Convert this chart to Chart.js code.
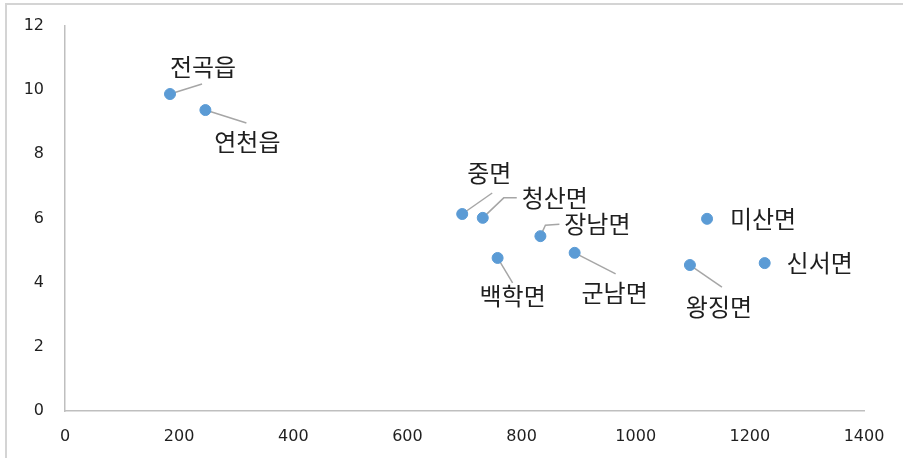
<!DOCTYPE html>
<html>
<head>
<meta charset="utf-8">
<script src="https://cdn.jsdelivr.net/npm/chart.js@4"></script>
<style>
  html, body { margin: 0; padding: 0; background: #fff; }
  #frame { position: absolute; left: 5px; top: 3px; width: 1200px; height: 800px; border: 2px solid #d4d4d4; }
  #wrap { position: absolute; left: 0; top: 0; width: 903px; height: 458px; }
</style>
</head>
<body>
<div id="frame"></div>
<div id="wrap"><canvas id="chart" width="903" height="458"></canvas></div>
<script>
// data
const regions = ['전곡읍', '연천읍', '중면', '청산면', '백학면', '장남면', '군남면', '미산면', '왕징면', '신서면'];
const xValues = [184, 246, 696, 732, 758, 833, 893, 1125, 1095, 1226];
const yValues = [9.88, 9.38, 6.14, 6.02, 4.77, 5.45, 4.93, 5.99, 4.55, 4.61];
const xTicks  = [0, 200, 400, 600, 800, 1000, 1200, 1400];
const yTicks  = [0, 2, 4, 6, 8, 10, 12];

// label placement (pixel offsets from each point) and leader lines
const labelLayout = [
  { label: [33, -27], line: [[32, -10]] },
  { label: [42, 32],  line: [[41, 13]] },
  { label: [27, -41], line: [[30, -21]] },
  { label: [72, -20], line: [[21, -20], [34, -20]] },
  { label: [15, 38],  line: [[15, 25]] },
  { label: [57, -12], line: [[5, -11], [19, -12]] },
  { label: [40, 40],  line: [[41, 21]] },
  { label: [56, 0],   line: null },
  { label: [29, 42],  line: [[32, 22]] },
  { label: [55, 0],   line: null }
];

const points = xValues.map((x, i) => ({ x: x, y: yValues[i] }));

const leaderLines = {
  id: 'leaderLines',
  beforeDatasetsDraw(chart) {
    const ctx = chart.ctx;
    const meta = chart.getDatasetMeta(0);
    ctx.save();
    ctx.strokeStyle = '#a6a6a6';
    ctx.lineWidth = 1.5;
    meta.data.forEach((pt, i) => {
      const lay = labelLayout[i];
      if (!lay.line) return;
      ctx.beginPath();
      ctx.moveTo(pt.x, pt.y);
      lay.line.forEach(p => ctx.lineTo(pt.x + p[0], pt.y + p[1]));
      ctx.stroke();
    });
    ctx.restore();
  },
  afterDatasetsDraw(chart) {
    const ctx = chart.ctx;
    const meta = chart.getDatasetMeta(0);
    ctx.save();
    ctx.font = '24px "Noto Sans CJK KR"';
    ctx.fillStyle = '#1f1f1f';
    ctx.textAlign = 'center';
    ctx.textBaseline = 'middle';
    meta.data.forEach((pt, i) => {
      const off = labelLayout[i].label;
      ctx.fillText(regions[i], pt.x + off[0], pt.y + off[1]);
    });
    ctx.restore();
  }
};

new Chart(document.getElementById('chart').getContext('2d'), {
  type: 'scatter',
  data: {
    datasets: [{
      data: points,
      backgroundColor: '#5b9bd5',
      borderColor: '#5b9bd5',
      pointRadius: 5.5,
      pointHoverRadius: 5.5
    }]
  },
  options: {
    responsive: false,
    animation: false,
    layout: { padding: { left: 0, top: 26, right: 39, bottom: 0 } },
    plugins: { legend: { display: false }, tooltip: { enabled: false } },
    scales: {
      x: {
        type: 'linear',
        min: 0,
        max: 1400,
        afterBuildTicks: s => { s.ticks = xTicks.map(v => ({ value: v })); },
        afterFit: s => { s.height = 47; s.paddingLeft = 0; s.paddingRight = 0; },
        grid: { display: false, drawTicks: false },
        border: { color: '#bfbfbf', width: 1.5 },
        ticks: {
          color: '#1f1f1f', padding: 16, maxRotation: 0,
          font: { family: 'DejaVu Sans', size: 16 },
          callback: v => String(v)
        }
      },
      y: {
        min: 0,
        max: 12,
        afterBuildTicks: s => { s.ticks = yTicks.map(v => ({ value: v })); },
        afterFit: s => { s.width = 65; s.paddingTop = 0; s.paddingBottom = 0; },
        grid: { display: false, drawTicks: false },
        border: { color: '#bfbfbf', width: 1.5 },
        ticks: {
          color: '#1f1f1f', padding: 21,
          font: { family: 'DejaVu Sans', size: 16 },
          callback: v => String(v)
        }
      }
    }
  },
  plugins: [leaderLines]
});
</script>
</body>
</html>
